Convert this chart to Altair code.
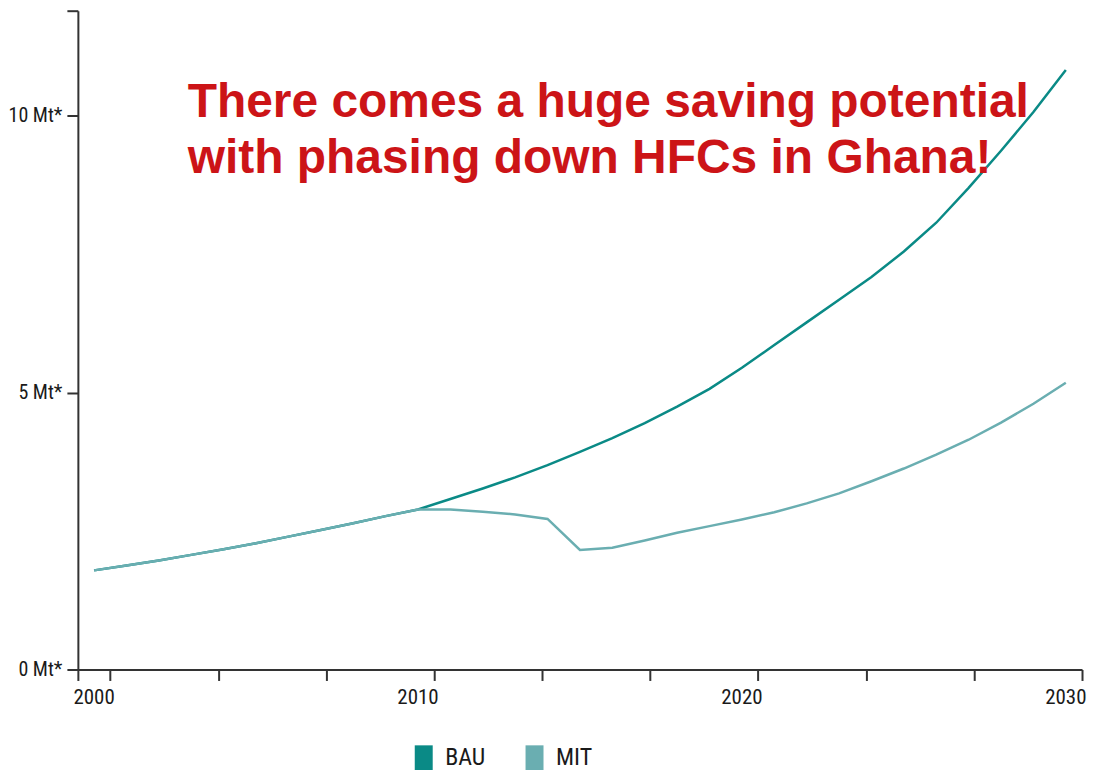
import altair as alt
import pandas as pd

years = list(range(2000, 2031))
bau = [1.79, 1.88, 1.97, 2.07, 2.17, 2.28, 2.40, 2.52, 2.64, 2.77, 2.89,
       3.08, 3.27, 3.47, 3.69, 3.93, 4.18, 4.45, 4.75, 5.07, 5.45,
       5.86, 6.27, 6.68, 7.09, 7.55, 8.07, 8.70, 9.37, 10.07, 10.83]
mit = [1.79, 1.88, 1.97, 2.07, 2.17, 2.28, 2.40, 2.52, 2.64, 2.77, 2.89,
       2.89, 2.85, 2.80, 2.72, 2.16, 2.20, 2.33, 2.47, 2.59, 2.71,
       2.84, 3.00, 3.18, 3.40, 3.63, 3.88, 4.15, 4.46, 4.80, 5.18]
series = ["BAU", "MIT"]
colors = ["#0a8a86", "#6aaeb1"]
headline = ["There comes a huge saving potential", "with phasing down HFCs in Ghana!"]
x_ticks = [1999, 2000, 2003.333, 2006.667, 2010, 2013.333, 2016.667, 2020, 2023.333, 2026.667, 2030]
y_ticks = [0, 5, 10, 11.9]

rows = []
for y, b, m in zip(years, bau, mit):
    rows.append({"year": y, "series": "BAU", "value": b})
    rows.append({"year": y, "series": "MIT", "value": m})
df = pd.DataFrame(rows)

label_font = "Liberation Sans Narrow, Arial Narrow, Roboto Condensed, Liberation Sans, sans-serif"
axis_color = "#333333"

lines = alt.Chart(df).transform_calculate(
    t="datum.year - 0.5"
).mark_line(strokeWidth=2.5).encode(
    x=alt.X("t:Q", scale=alt.Scale(domain=[1999, 2030], nice=False, zero=False),
            axis=alt.Axis(values=x_ticks, title=None, grid=False, format="d",
                          labelExpr="(datum.value == 2000 || datum.value == 2010 || datum.value == 2020 || datum.value == 2030) ? datum.label : ''",
                          labelFont=label_font, labelFontSize=21, labelColor="#1a1a1a",
                          labelAlign="right", labelOffset=4,
                          labelPadding=6, tickSize=11, tickWidth=2, tickColor=axis_color,
                          domainColor=axis_color, domainWidth=2, labelFlush=False)),
    y=alt.Y("value:Q", scale=alt.Scale(domain=[0, 11.9], nice=False),
            axis=alt.Axis(values=y_ticks, title=None, grid=False,
                          labelExpr="datum.value > 11 ? '' : datum.value + ' Mt*'",
                          labelFont=label_font, labelFontSize=20, labelColor="#1a1a1a",
                          labelPadding=5, tickSize=11, tickWidth=2, tickColor=axis_color,
                          domainColor=axis_color, domainWidth=2)),
    color=alt.Color("series:N", scale=alt.Scale(domain=series, range=colors),
                    legend=alt.Legend(title=None, orient="none", legendX=325, legendY=727,
                                      direction="horizontal",
                                      symbolType="M0,-1L0,1", symbolSize=625,
                                      symbolStrokeWidth=18,
                                      labelFont=label_font, labelFontSize=24,
                                      labelColor="#1a1a1a", labelOffset=0,
                                      columnPadding=12)),
    detail="series:N",
)

text = alt.Chart(pd.DataFrame({"k": [1]})).mark_text(
    text=headline, align="left", baseline="alphabetic",
    font="Liberation Sans, Arial, sans-serif", fontWeight="bold",
    fontSize=48, lineHeight=57, color="#cc1417"
).encode(x=alt.value(110), y=alt.value(106))

chart = alt.layer(lines, text).properties(
    width=1006, height=660,
    padding={"left": 70, "top": 2, "right": 5, "bottom": 100},
    autosize=alt.AutoSizeParams(type="none"),
).configure_view(stroke=None)

chart.save("out.html", embed_options={"renderer": "svg", "actions": False})
